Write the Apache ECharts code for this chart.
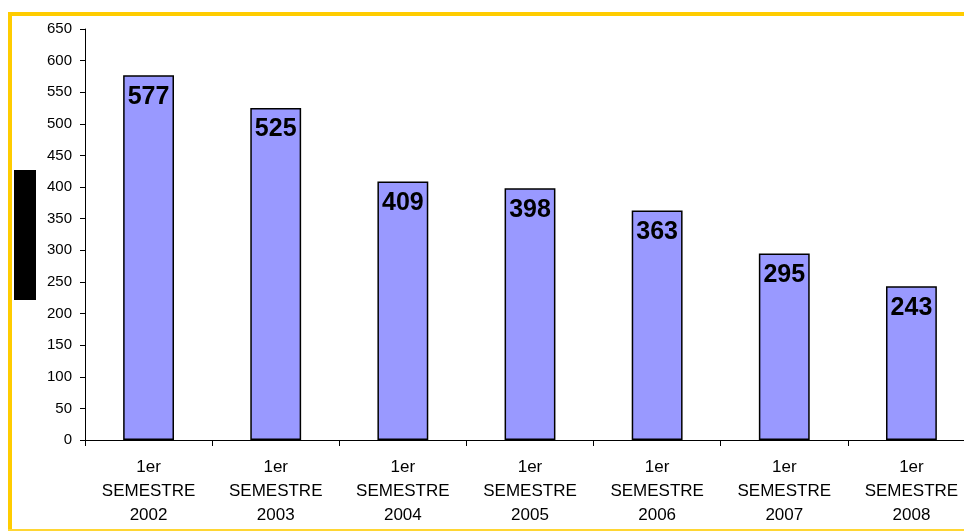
<!DOCTYPE html>
<html>
<head>
<meta charset="utf-8">
<script src="https://cdn.jsdelivr.net/npm/echarts@6/dist/echarts.min.js"></script>
<style>
  html, body { margin: 0; padding: 0; background: #fff; overflow: hidden; }
  #chart { width: 976px; height: 531px; }
</style>
</head>
<body>
<div id="chart"></div>
<script>
const categories = ['1er\nSEMESTRE\n2002', '1er\nSEMESTRE\n2003', '1er\nSEMESTRE\n2004',
  '1er\nSEMESTRE\n2005', '1er\nSEMESTRE\n2006', '1er\nSEMESTRE\n2007', '1er\nSEMESTRE\n2008']
const values = [577, 525, 409, 398, 363, 295, 243]
const yMax = 650
const yStep = 50

// the plot runs past the right edge of the window, like the original
let chart = echarts.init(document.getElementById('chart'))
let option = {
  animation: false,
  backgroundColor: '#fff',
  textStyle: { fontFamily: 'Liberation Sans, Arial, sans-serif' },
  graphic: [
    // yellow frame
    { type: 'rect', shape: { x: 8, y: 12, width: 1000, height: 4 }, style: { fill: '#FFCC00' } },
    { type: 'rect', shape: { x: 8, y: 12, width: 4, height: 520 }, style: { fill: '#FFCC00' } },
    { type: 'rect', shape: { x: 8, y: 529, width: 1000, height: 2 }, style: { fill: '#FFD633' } },
    // black block on the left
    { type: 'rect', shape: { x: 14, y: 170, width: 22, height: 130 }, style: { fill: '#000' } }
  ],
  grid: {
    left: 85,
    right: 1,
    top: 29,
    bottom: 91
  },
  xAxis: {
    type: 'category',
    data: categories,
    axisLine: { lineStyle: { color: '#000', width: 1 } },
    axisTick: { show: true, length: 6, lineStyle: { color: '#000' } },
    axisLabel: {
      color: '#000',
      fontSize: 17,
      lineHeight: 24,
      margin: 15,
      interval: 0
    }
  },
  yAxis: {
    type: 'value',
    min: 0,
    max: yMax,
    interval: yStep,
    splitLine: { show: false },
    axisLine: { show: true, lineStyle: { color: '#000', width: 1 } },
    axisTick: { show: true, length: 5, lineStyle: { color: '#000' } },
    axisLabel: { color: '#000', fontSize: 15, margin: 13 }
  },
  series: [
    {
      type: 'bar',
      data: values,
      barWidth: '40%',
      itemStyle: {
        color: '#9999FF',
        borderColor: '#000',
        borderWidth: 1.5
      },
      label: {
        show: true,
        position: 'insideTop',
        distance: 9,
        color: '#000',
        fontSize: 25,
        fontWeight: 'bold'
      }
    }
  ]
}
chart.setOption(option)
</script>
</body>
</html>
